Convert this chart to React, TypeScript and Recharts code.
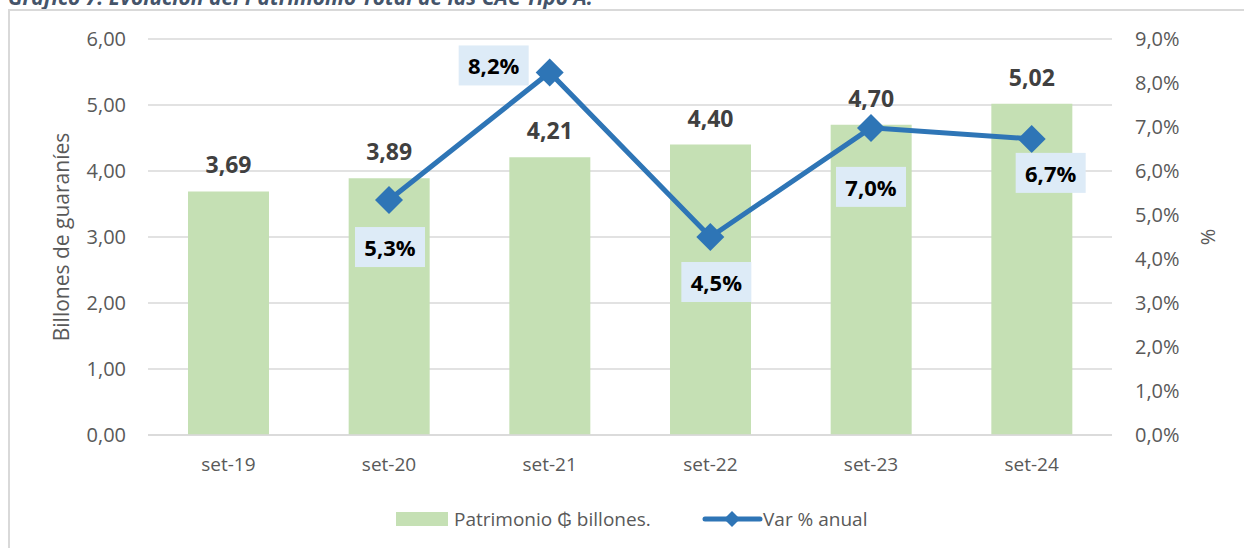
import { ComposedChart, Bar, Line, XAxis, YAxis, CartesianGrid, Legend, LabelList } from 'recharts';

const periods = ['set-19', 'set-20', 'set-21', 'set-22', 'set-23', 'set-24'];
const patrimonio = [3.69, 3.89, 4.21, 4.4, 4.7, 5.02];
const variacion = [null, 5.34, 8.24, 4.5, 6.98, 6.73];
const leftTicks = [0, 1, 2, 3, 4, 5, 6];
const rightTicks = [0, 1, 2, 3, 4, 5, 6, 7, 8, 9];

const data = periods.map((p, i) => ({ name: p, patrimonio: patrimonio[i], variacion: variacion[i] }));

// where each % label box sits relative to its point
const labelOffsets = [
  [0, 0],
  [1, 47],
  [-56, -7],
  [6, 45],
  [0, 59],
  [19, 34],
];

const FONT = '"Open Sans", sans-serif';
const GREEN = '#C5E0B4';
const BLUE = '#2E75B6';

const fmt = (v: number, d: number) => v.toFixed(d).replace('.', ',');

const Diamond = (props: any) => {
  const { cx, cy } = props;
  if (cx == null || cy == null || props.value == null) return null;
  const r = 14;
  return <path d={`M${cx},${cy - r}L${cx + r},${cy}L${cx},${cy + r}L${cx - r},${cy}Z`} fill={BLUE} />;
};

const PctLabel = (props: any) => {
  const { x, y, value, index } = props;
  if (value == null) return null;
  const [dx, dy] = labelOffsets[index];
  const cx = x + dx;
  const cy = y + dy;
  return (
    <g>
      <rect x={cx - 35} y={cy - 20} width={70} height={40} fill="#DDEBF7" />
      <text x={cx} y={cy} textAnchor="middle" dominantBaseline="central" fontFamily={FONT} fontWeight={700} fontSize={22} fill="#000">
        {fmt(value, 1)}%
      </text>
    </g>
  );
};

const LegendContent = () => (
  <div style={{ position: 'relative', width: 1244, height: 30, fontFamily: FONT, fontSize: 19, color: '#595959' }}>
    <div style={{ position: 'absolute', left: 396, top: 7, width: 52, height: 14, background: GREEN }} />
    <div style={{ position: 'absolute', left: 454, top: 0, lineHeight: '28px', whiteSpace: 'nowrap' }}>Patrimonio ₲ billones.</div>
    <svg style={{ position: 'absolute', left: 700, top: 2 }} width={64} height={24}>
      <line x1={5} y1={12} x2={60} y2={12} stroke={BLUE} strokeWidth={5} strokeLinecap="round" />
      <path d="M32,4L40,12L32,20L24,12Z" fill={BLUE} />
    </svg>
    <div style={{ position: 'absolute', left: 763, top: 0, lineHeight: '28px', whiteSpace: 'nowrap' }}>Var % anual</div>
  </div>
);

export default function App() {
  return (
    <div style={{ position: 'fixed', left: 0, top: 0, width: 1244, height: 548, overflow: 'hidden', background: '#fff' }}>
      <div
        style={{
          position: 'absolute', left: 8, top: -17, fontFamily: FONT, fontSize: 21, fontWeight: 700,
          fontStyle: 'italic', color: '#44546A', whiteSpace: 'nowrap',
        }}
      >
        Gráfico 7. Evolución del Patrimonio Total de las CAC Tipo A.
      </div>
      <div style={{ position: 'absolute', left: 8, top: 9, width: 1260, height: 560, border: '2px solid #D9D9D9' }} />
      <div style={{ position: 'absolute', left: 0, top: 0 }}>
        <ComposedChart width={1244} height={548} data={data} margin={{ top: 39, right: 0, left: 0, bottom: 53 }} barCategoryGap="50%">
          <CartesianGrid yAxisId="left" vertical={false} stroke="#D9D9D9" strokeWidth={1.5} />
          <XAxis
            dataKey="name"
            height={30}
            axisLine={{ stroke: '#D9D9D9', strokeWidth: 1.5 }}
            tickLine={false}
            tickMargin={17}
            tick={{ fontFamily: FONT, fontSize: 19, fill: '#595959' }}
          />
          <YAxis
            yAxisId="left"
            width={148}
            domain={[0, 6]}
            ticks={leftTicks}
            tickFormatter={(v: number) => fmt(v, 2)}
            axisLine={false}
            tickLine={false}
            tickSize={0}
            tickMargin={22}
            tick={{ fontFamily: FONT, fontSize: 20, fill: '#595959' }}
            label={{ value: 'Billones de guaraníes', angle: -90, position: 'center', dx: -12, style: { fontFamily: FONT, fontSize: 21, fill: '#595959' } }}
          />
          <YAxis
            yAxisId="right"
            orientation="right"
            width={132}
            domain={[0, 9]}
            ticks={rightTicks}
            tickFormatter={(v: number) => fmt(v, 1) + '%'}
            axisLine={false}
            tickLine={false}
            tickSize={0}
            tickMargin={23}
            tick={{ fontFamily: FONT, fontSize: 20, fill: '#595959', textAnchor: 'start' }}
            label={{ value: '%', angle: -90, position: 'center', dx: 30, style: { fontFamily: FONT, fontSize: 20, fill: '#595959' } }}
          />
          <Legend layout="vertical" align="center" verticalAlign="bottom" wrapperStyle={{ left: 0, top: 505, width: 1244 }} content={LegendContent} />
          <Bar yAxisId="left" dataKey="patrimonio" name="Patrimonio ₲ billones." fill={GREEN} barSize={81} isAnimationActive={false}>
            <LabelList
              dataKey="patrimonio"
              position="top"
              offset={18}
              formatter={(v: any) => fmt(Number(v), 2)}
              style={{ fontFamily: FONT, fontSize: 23, fontWeight: 700, fill: '#404040' }}
            />
          </Bar>
          <Line
            yAxisId="right"
            dataKey="variacion"
            name="Var % anual"
            stroke={BLUE}
            strokeWidth={5}
            dot={<Diamond />}
            activeDot={false}
            isAnimationActive={false}
          >
            <LabelList dataKey="variacion" content={PctLabel} />
          </Line>
        </ComposedChart>
      </div>
    </div>
  );
}
